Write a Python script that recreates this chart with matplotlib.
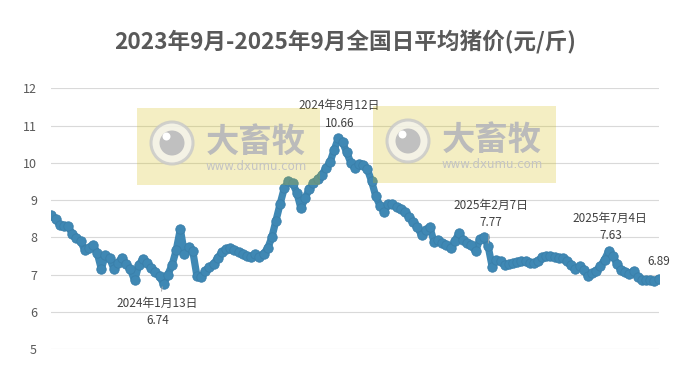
import matplotlib
matplotlib.use('Agg')
import matplotlib.pyplot as plt
from matplotlib.patches import Rectangle, Circle
from matplotlib.transforms import IdentityTransform
import pandas as pd

plt.rcParams['font.family'] = ['Noto Sans CJK SC', 'DejaVu Sans']

# ---- Data: national daily average hog price, sampled every 5 days
start_date = '2023-09-01'
step = '5D'
prices = [
    8.60, 8.48, 8.33, 8.30, 8.29, 8.10, 7.99, 7.90, 7.66, 7.72,
    7.80, 7.58, 7.15, 7.53, 7.44, 7.16, 7.32, 7.45, 7.27, 7.14,
    6.84, 7.25, 7.42, 7.30, 7.18, 7.08, 6.95, 6.74, 7.00, 7.25,
    7.65, 8.22, 7.55, 7.75, 7.62, 6.95, 6.92, 7.10, 7.20, 7.28,
    7.45, 7.60, 7.68, 7.70, 7.66, 7.61, 7.55, 7.50, 7.48, 7.54,
    7.48, 7.56, 7.70, 8.00, 8.45, 8.90, 9.32, 9.50, 9.45, 9.20,
    8.78, 9.05, 9.30, 9.45, 9.56, 9.68, 9.85, 10.02, 10.35, 10.66,
    10.55, 10.28, 10.00, 9.85, 9.98, 9.95, 9.82, 9.50, 9.10, 8.85,
    8.69, 8.90, 8.90, 8.80, 8.75, 8.68, 8.55, 8.40, 8.28, 8.05,
    8.20, 8.27, 7.88, 7.93, 7.85, 7.80, 7.70, 7.90, 8.11, 7.92,
    7.85, 7.78, 7.62, 7.95, 8.00, 7.77, 7.20, 7.40, 7.35, 7.26,
    7.27, 7.30, 7.33, 7.35, 7.35, 7.32, 7.30, 7.35, 7.46, 7.50,
    7.51, 7.46, 7.44, 7.43, 7.36, 7.25, 7.14, 7.22, 7.12, 6.95,
    7.03, 7.10, 7.22, 7.40, 7.63, 7.50, 7.28, 7.12, 7.08, 7.02,
    7.10, 6.92, 6.86, 6.86, 6.85, 6.82, 6.89,
]
dates = pd.date_range(start_date, periods=len(prices), freq=step)

ann_dates = ['2024-01-13', '2024-08-12', '2025-02-07', '2025-07-04']
ann_values = [6.74, 10.66, 7.77, 7.63]
ann_labels = ['2024年1月13日', '2024年8月12日', '2025年2月7日', '2025年7月4日']
# text offsets (points) and whether a leader line is drawn
ann_offsets = [(-4, -20), (0, 17), (2, 23), (0, 17.5)]
ann_leader = [True, False, True, False]

y_ticks = [5, 6, 7, 8, 9, 10, 11, 12]
title = '2023年9月-2025年9月全国日平均猪价(元/斤)'

W, H = 691, 375
fig = plt.figure(figsize=(W / 100, H / 100), dpi=100)
ax = fig.add_axes([51 / W, (H - 349) / H, (659 - 51) / W, (349 - 88.3) / H])

# thick connecting band under the markers, so the daily series reads as a ribbon
ax.plot(dates, prices, color='#3F88B4', lw=5.2, solid_capstyle='round',
        solid_joinstyle='round', zorder=2)
ax.plot(dates, prices, linestyle='none', marker='o', ms=6.8,
        mfc='#3F88B4', mec='#3A7FAA', mew=0.6, zorder=3)

ax.set_ylim(5, 12)
ax.set_yticks(y_ticks)
ax.set_xlim(dates[0] - pd.Timedelta(days=0.5), dates[-1] + pd.Timedelta(days=0.5))
ax.set_xticks([])
ax.grid(axis='y', color='#D9D9D9', linewidth=0.8)
ax.set_axisbelow(True)
for s in ax.spines.values():
    s.set_visible(False)
ax.tick_params(axis='y', length=0, pad=10, labelsize=9, labelcolor='#595959')

# ---- Annotations
for d, v, lab, off, lead in zip(ann_dates, ann_values, ann_labels, ann_offsets, ann_leader):
    props = None
    if lead:
        props = dict(arrowstyle='-', color='#A6A6A6', lw=0.7, shrinkA=2, shrinkB=2)
    ax.annotate(lab + '\n' + f'{v:.2f}', xy=(pd.Timestamp(d), v), xytext=off,
                textcoords='offset points', ha='center', va='center',
                fontsize=8.5, color='#404040', linespacing=1.45,
                arrowprops=props, annotation_clip=False, zorder=4)

ax.annotate(f'{prices[-1]:.2f}', xy=(dates[-1], prices[-1]), xytext=(0, 12.5),
            textcoords='offset points', ha='center', va='center',
            fontsize=8.5, color='#404040', annotation_clip=False, zorder=4)

fig.text(0.5, 1 - 42 / H, title, ha='center', va='center', fontsize=16.3,
         fontweight='bold', color='#595959')

# ---- Watermarks (pixel coordinates, origin top-left)
idt = IdentityTransform()


def watermark(x0, y0):
    fig.add_artist(Rectangle((x0, H - y0 - 77), 183, 77, transform=idt,
                             facecolor='#D4BF10', alpha=0.25, edgecolor='none', zorder=5))
    cx, cy = x0 + 35, H - (y0 + 35)
    fig.add_artist(Circle((cx, cy), 21, transform=idt, facecolor='#F4F4EE',
                          edgecolor='#C8C8C8', lw=2.2, alpha=0.8, zorder=6))
    fig.add_artist(Circle((cx, cy), 12.5, transform=idt, facecolor='#C0C0C0',
                          edgecolor='none', zorder=7))
    fig.add_artist(Circle((cx - 5.5, cy + 6.5), 4, transform=idt, facecolor='white',
                          edgecolor='none', zorder=8))
    fig.text((x0 + 119) / W, 1 - (y0 + 34) / H, '大畜牧', ha='center', va='center',
             fontsize=24, fontweight='bold', color='#BBBBBB', zorder=7)
    fig.text((x0 + 119) / W, 1 - (y0 + 58) / H, 'www.dxumu.com', ha='center',
             va='center', fontsize=8.5, color='#C4C4C4', family='DejaVu Sans', zorder=7)


watermark(137, 108)
watermark(373, 106)

fig.savefig('out.png', dpi=100)
